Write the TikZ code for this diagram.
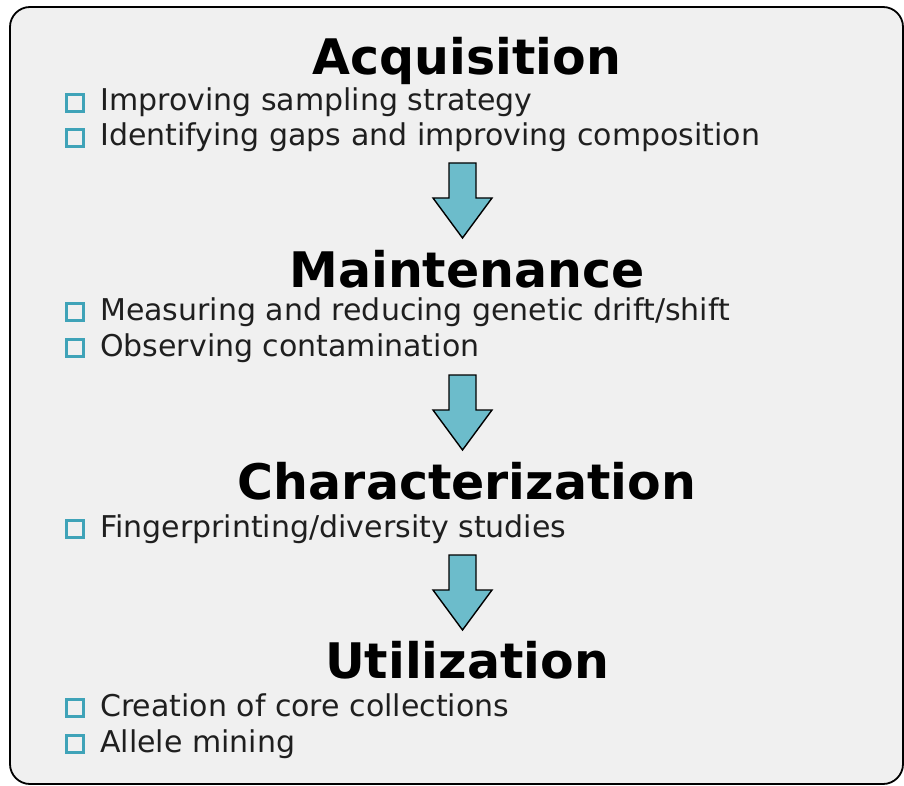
\documentclass[tikz,border=0pt]{standalone}
\usepackage{fontspec}
\setmainfont{DejaVu Sans}
\usetikzlibrary{positioning}

\definecolor{panelgray}{HTML}{F0F0F0}
\definecolor{arrowteal}{HTML}{6CBCCB}
\definecolor{boxteal}{HTML}{3FA3B8}

\tikzset{
  heading/.style={anchor=base, inner sep=0pt, font=\fontsize{49}{58}\selectfont\bfseries},
  bullet/.style={draw=boxteal, line width=2.8pt, fill=panelgray, minimum size=17pt, inner sep=0pt},
  entry/.style={anchor=base west, inner sep=0pt, text=black!88,
    text height=23pt, text depth=7pt, font=\fontsize{30}{35}\selectfont,
    label={[bullet, label distance=15pt]left:{}}},
  flow/.style={draw=black, line width=1.4pt, fill=arrowteal, line join=miter}
}

% block arrow pointing down, top centre at #1
\newcommand{\flowarrow}[1]{%
  \draw[flow, shift={#1}] (-13.5,0) -- (13.5,0) -- (13.5,35) -- (29.5,35)
    -- (0,75) -- (-29.5,35) -- (-13.5,35) -- cycle;}

\begin{document}
\begin{tikzpicture}[x=1pt, y=-1pt]
  \useasboundingbox (0,0) rectangle (904,786);
  \draw[line width=1.8pt, rounded corners=20pt, fill=panelgray] (10,7) rectangle (903,784);

  % Acquisition
  \node[heading] (acq) at (467,75) {Acquisition};
  \node[entry] (acq1) at (100,111) {Improving sampling strategy};
  \node[entry] (acq2) at (100,146) {Identifying gaps and improving composition};
  \flowarrow{(462.5,163)}

  % Maintenance
  \node[heading] (mnt) at (467,287) {Maintenance};
  \node[entry] (mnt1) at (100,320) {Measuring and reducing genetic drift/shift};
  \node[entry] (mnt2) at (100,356) {Observing contamination};
  \flowarrow{(462.5,375)}

  % Characterization
  \node[heading] (chr) at (467,499) {Characterization};
  \node[entry] (chr1) at (100,537) {Fingerprinting/diversity studies};
  \flowarrow{(462.5,555)}

  % Utilization
  \node[heading] (utl) at (467,678) {Utilization};
  \node[entry] (utl1) at (100,716) {Creation of core collections};
  \node[entry] (utl2) at (100,752) {Allele mining};
\end{tikzpicture}
\end{document}
